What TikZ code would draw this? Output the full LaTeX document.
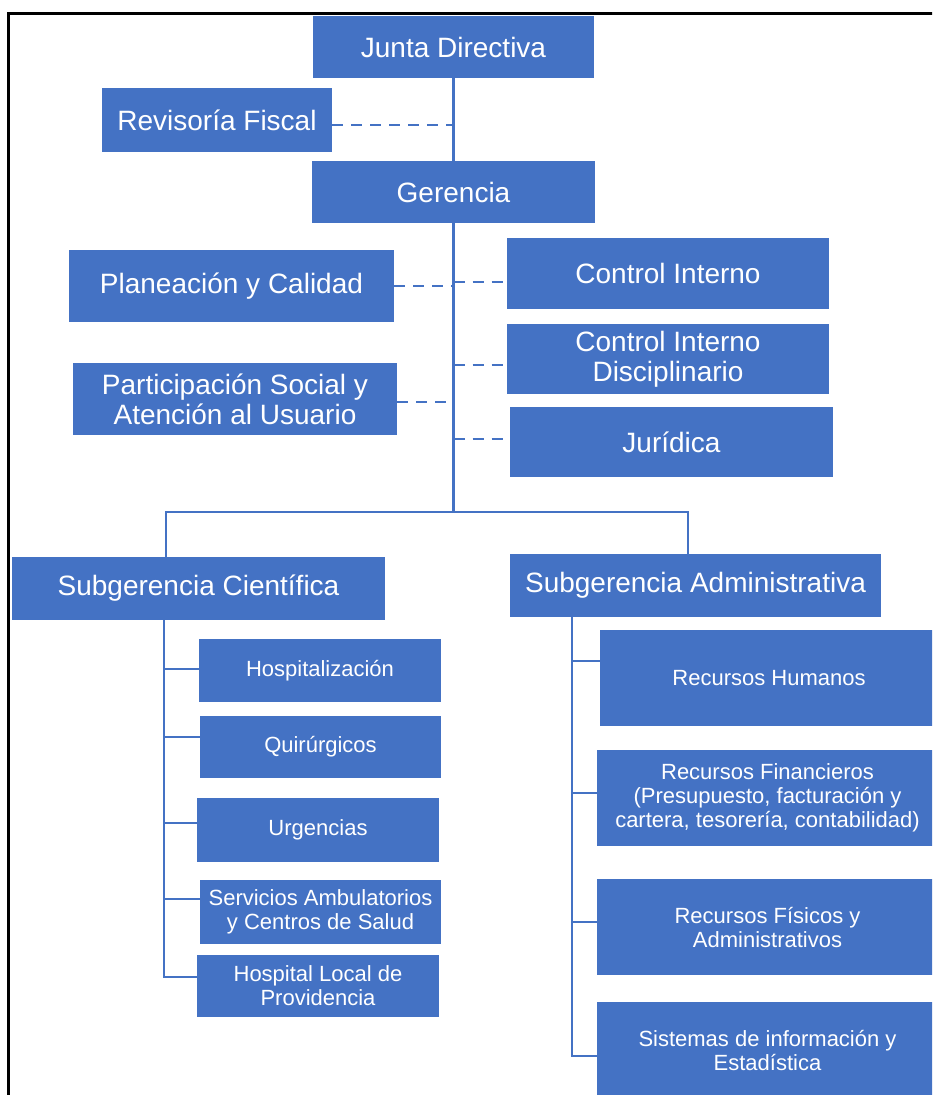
\documentclass[tikz,border=0pt]{standalone}
\usepackage{fontspec}
\setmainfont{Liberation Sans}
\definecolor{orgblue}{RGB}{68,114,196}

\begin{document}
\begin{tikzpicture}[x=1pt, y=-1pt,
    unit/.style={rectangle, fill=orgblue, text=white, align=center, inner sep=0pt, font=\fontsize{28}{30}\selectfont},
    sub/.style={unit, font=\fontsize{22}{24}\selectfont},
    link/.style={orgblue, line width=2.5pt},
    staff/.style={link, dash pattern=on 11pt off 8pt}]
  \clip (0,0) rectangle (932,1095);
  \fill[white] (0,0) rectangle (932,1095);
  \draw[line width=3pt] (8,13) rectangle (960,1120);

  % direccion
  \node[unit, minimum width=281pt, minimum height=62pt] (jd) at (453.5,47) {Junta Directiva};
  \node[unit, minimum width=230pt, minimum height=64pt] (rf) at (217,120) {Revisoría Fiscal};
  \node[unit, minimum width=283pt, minimum height=62pt] (ger) at (453.5,192) {Gerencia};
  \node[unit, minimum width=325pt, minimum height=72pt] (pc) at (231.5,286) {Planeación y Calidad};
  \node[unit, minimum width=324pt, minimum height=72pt] (ps) at (235,399) {Participación Social y\\Atención al Usuario};
  \node[unit, minimum width=322pt, minimum height=71pt] (ci) at (668,273.5) {Control Interno};
  \node[unit, minimum width=322pt, minimum height=70pt] (cid) at (668,359) {Control Interno\\Disciplinario};
  \node[unit, minimum width=323pt, minimum height=70pt] (ju) at (671.5,442) {Jurídica};

  % subgerencias
  \node[unit, minimum width=373pt, minimum height=63pt] (sc) at (198.5,588.5) {Subgerencia Científica};
  \node[unit, minimum width=371pt, minimum height=63pt] (sa) at (695.5,585.5) {Subgerencia Administrativa};

  \node[sub, minimum width=242pt, minimum height=63pt] (hosp) at (320,670.5) {Hospitalización};
  \node[sub, minimum width=241pt, minimum height=62pt] (quir) at (320.5,747) {Quirúrgicos};
  \node[sub, minimum width=242pt, minimum height=64pt] (urg) at (318,830) {Urgencias};
  \node[sub, minimum width=241pt, minimum height=64pt] (serv) at (320.5,912) {Servicios Ambulatorios\\y Centros de Salud};
  \node[sub, minimum width=242pt, minimum height=62pt] (hl) at (318,986) {Hospital Local de\\Providencia};

  \node[sub, minimum width=338pt, minimum height=96pt] (rh) at (769,678) {Recursos Humanos};
  \node[sub, minimum width=341pt, minimum height=96pt] (rfin) at (767.5,798) {Recursos Financieros\\(Presupuesto, facturación y\\cartera, tesorería, contabilidad)};
  \node[sub, minimum width=341pt, minimum height=96pt] (rfa) at (767.5,927) {Recursos Físicos y\\Administrativos};
  \node[sub, minimum width=341pt, minimum height=96pt] (si) at (767.5,1050) {Sistemas de información y\\Estadística};

  % lineas
  \coordinate (bar) at (453.5,512);
  \coordinate (scL) at (166,512);
  \coordinate (saL) at (688,512);
  \coordinate (sciT) at (164,620);
  \coordinate (admT) at (572,617);
  \draw[link] (jd.south) -- (ger.north);
  \draw[link] (ger.south) -- (bar);
  \draw[link] (sc.north -| scL) -- (scL) -- (saL) -- (sa.north -| saL);
  \foreach \n/\s in {rf/-5, pc/0, ps/-3} {
    \coordinate (d) at ([yshift=\s pt]\n.east);
    \draw[staff] (d) -- (d -| bar);
  }
  \foreach \n/\s in {ci/-8.5, cid/-6, ju/3} {
    \coordinate (d) at ([yshift=\s pt]\n.west);
    \draw[staff] (d -| bar) -- (d);
  }
  \foreach \n/\s in {hosp/1.5, quir/10, urg/7, serv/13, hl/9}
    \draw[link] ([yshift=\s pt]\n.west) -| (sciT);
  \foreach \n/\s in {rh/17, rfin/5, rfa/5, si/-6}
    \draw[link] ([yshift=\s pt]\n.west) -| (admT);
\end{tikzpicture}
\end{document}
